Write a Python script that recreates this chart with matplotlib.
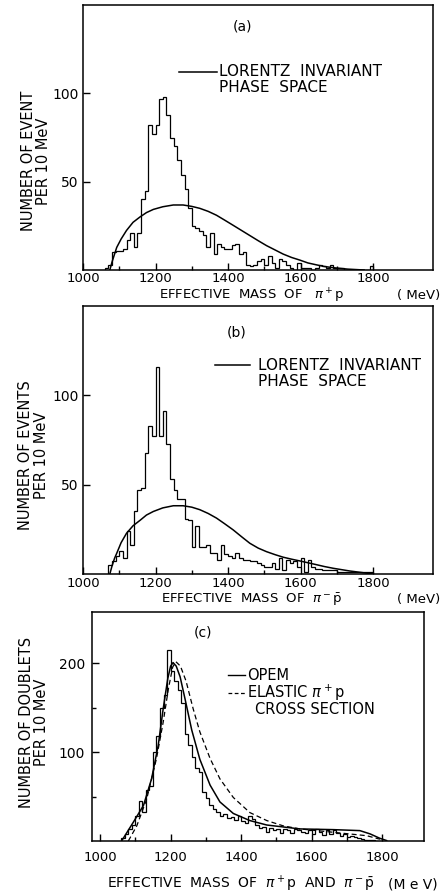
import numpy as np
import matplotlib
matplotlib.use("Agg")
import matplotlib.pyplot as plt

# ---------------- data ----------------
# panel (a): pi+ p histogram, 10 MeV bins starting at 1060 MeV
a_start = 1060
a_counts = [1, 3, 10, 11, 11, 12, 17, 21, 13, 21,
            40, 45, 82, 77, 82, 97, 98, 88, 75, 70,
            62, 54, 46, 35, 25, 24, 22, 20, 13, 21,
            9, 15, 13, 12, 12, 14, 15, 9, 10, 3,
            2, 3, 5, 6, 3, 8, 4, 1, 6, 5,
            3, 1, 0, 4, 1, 1, 1, 0, 1, 3,
            2, 1, 3, 1, 1, 1, 0, 0, 0, 0,
            0, 0, 0, 2]
a_ps_m = [1074, 1080, 1087, 1093, 1105, 1120, 1138, 1157, 1175, 1194, 1220,
          1249, 1276, 1300, 1322, 1345, 1368, 1390, 1414, 1437, 1460, 1483,
          1506, 1530, 1552, 1575, 1598, 1620, 1644, 1665, 1690, 1730, 1775]
a_ps_n = [0, 4.5, 9, 12.8, 17.5, 22.4, 27, 30, 32.5, 34.3, 35.8,
          36.8, 36.8, 36, 34.9, 33.2, 31, 28.3, 25.3, 22.4, 19.5, 16.6,
          13.8, 11.3, 9, 7.1, 5.6, 4, 2.9, 2, 1.3, 0.5, 0]

# panel (b): pi- pbar histogram, 10 MeV bins starting at 1070 MeV
b_start = 1070
b_counts = [5, 7, 10, 13, 9, 24, 16, 35, 47, 48,
            68, 83, 77, 116, 77, 91, 73, 53, 47, 42,
            42, 31, 30, 15, 27, 15, 15, 16, 12, 12,
            8, 16, 11, 10, 9, 12, 9, 8, 8, 7,
            7, 6, 5, 4, 4, 6, 3, 9, 2, 8,
            6, 7, 4, 9, 1, 8, 4, 3, 3, 2,
            2, 2, 2, 1, 1, 1, 1, 1, 1, 1,
            1, 1, 1]
b_ps_m = [1074, 1080, 1087, 1093, 1105, 1120, 1138, 1157, 1175, 1194, 1220,
          1249, 1276, 1300, 1322, 1345, 1368, 1390, 1414, 1437, 1460, 1483,
          1506, 1530, 1552, 1575, 1598, 1620, 1644, 1665, 1690, 1735, 1781, 1800]
b_ps_n = [0, 4.5, 8.8, 11.6, 17.5, 22.8, 27, 30, 33, 35, 37,
          38.2, 38.2, 37.4, 36, 33.9, 31.3, 28.2, 24.7, 20.9, 17.2, 14.5,
          12.5, 10.8, 9.4, 8.3, 7.3, 6.3, 5.2, 4.2, 3.2, 1.7, 0.5, 0]

# panel (c): combined doublets histogram, 10 MeV bins starting at 1060 MeV
c_start = 1060
c_counts = [3, 8, 14, 18, 28, 45, 33, 58, 62, 100,
            118, 150, 165, 215, 192, 180, 170, 155, 120, 108,
            95, 82, 78, 55, 48, 40, 36, 33, 28, 30,
            26, 27, 24, 28, 22, 20, 28, 25, 18, 15,
            16, 10, 15, 12, 14, 9, 14, 12, 9, 13,
            12, 10, 9, 12, 8, 13, 10, 7, 12, 8,
            12, 9, 6, 8, 5, 6, 4, 3, 2, 1, 1, 1]
opem_m = [1061, 1094, 1123, 1146, 1165, 1179, 1192, 1200, 1207, 1216, 1227, 1241,
          1260, 1283, 1312, 1340, 1378, 1425, 1473, 1567, 1662, 1737, 1766,
          1794, 1813]
opem_n = [0, 21, 40, 70, 108, 149, 183, 197, 201, 197, 185, 160,
          125, 92, 63, 44, 31, 23, 18, 13.6, 12.8, 11.7, 8,
          3, 0.5]
elastic_m = [1080, 1104, 1132, 1160, 1179, 1194, 1206, 1215, 1228, 1244,
             1264, 1283, 1312, 1340, 1378, 1425, 1473, 1520, 1567, 1662,
             1756, 1794]
elastic_n = [0, 17, 47, 93, 134, 172, 196, 202, 197, 180,
             149, 123, 93, 70, 49, 32, 23, 17, 13.6, 9.8,
             6, 2]

x_ticks = [1000, 1200, 1400, 1600, 1800]

# ---------------- figure ----------------
W, H = 442, 894
fig = plt.figure(figsize=(W / 100, H / 100), dpi=100)
plt.rcParams['font.family'] = ['DejaVu Sans']
plt.rcParams['mathtext.fontset'] = 'dejavusans'


def add_ax(left, top, right, bottom):
    return fig.add_axes([left / W, 1 - bottom / H, (right - left) / W, (bottom - top) / H])


def ftext(x, y, s, fs=10, **kw):
    fig.text(x / W, 1 - y / H, s, fontsize=fs, **kw)


def style(ax, xlim, ylim, yticks, xpad, ypad, yminor=None):
    ax.set_xlim(*xlim)
    ax.set_ylim(*ylim)
    ax.set_xticks(x_ticks)
    ax.set_xticks(np.arange(1100, 1900, 200), minor=True)
    ax.set_yticks(yticks)
    if yminor is not None:
        ax.set_yticks(yminor, minor=True)
    ax.tick_params(axis='both', which='both', direction='in', top=False, right=False,
                   labelsize=10, width=1.0)
    ax.tick_params(axis='x', labelsize=9.5)
    ax.tick_params(which='major', length=5)
    ax.tick_params(which='minor', length=3)
    ax.tick_params(axis='x', pad=xpad)
    ax.tick_params(axis='y', pad=ypad)
    for s in ax.spines.values():
        s.set_linewidth(1.1)


def steps(ax, start, counts):
    edges = start + 10 * np.arange(len(counts) + 1)
    ax.stairs(counts, edges, baseline=0, color='black', lw=0.9)


def legline(x0, x1, y, **kw):
    fig.add_artist(plt.Line2D([x0 / W, x1 / W], [1 - y / H, 1 - y / H], color='black', **kw))


# panel (a)
axa = add_ax(83, 5, 433, 270)
steps(axa, a_start, a_counts)
axa.plot(a_ps_m, a_ps_n, color='black', lw=1.1)
style(axa, (1000, 1965), (0, 150), [50, 100], 1.8, 3)
ftext(242, 27, "(a)", ha='center', va='center')
legline(179, 217, 72, lw=1.1)
ftext(219, 72, "LORENTZ  INVARIANT", fs=11, ha='left', va='center')
ftext(219, 88, "PHASE  SPACE", fs=11, ha='left', va='center')
ftext(252, 296, r"EFFECTIVE  MASS  OF   $\pi^+$p", fs=9.5, ha='center', va='center')
ftext(440, 295, "( MeV)", fs=9.5, ha='right', va='center')
ftext(29, 161, "NUMBER OF EVENT", fs=10.5, ha='center', va='center', rotation=90)
ftext(44, 161, "PER 10 MeV", fs=10.5, ha='center', va='center', rotation=90)

# panel (b)
axb = add_ax(83, 306, 433, 574)
steps(axb, b_start, b_counts)
axb.plot(b_ps_m, b_ps_n, color='black', lw=1.1)
style(axb, (1000, 1965), (0, 150), [50, 100], 2.5, 3)
ftext(237, 332, "(b)", ha='center', va='center')
legline(215, 250, 365, lw=1.1)
ftext(258, 365, "LORENTZ  INVARIANT", fs=11, ha='left', va='center')
ftext(258, 381, "PHASE  SPACE", fs=11, ha='left', va='center')
ftext(252, 600, r"EFFECTIVE  MASS  OF  $\pi^-\bar{\mathrm{p}}$", fs=9.5, ha='center', va='center')
ftext(440, 599, "( MeV)", fs=9.5, ha='right', va='center')
ftext(26, 455, "NUMBER OF EVENTS", fs=10.5, ha='center', va='center', rotation=90)
ftext(41, 455, "PER 10 MeV", fs=10.5, ha='center', va='center', rotation=90)

# panel (c)
axc = add_ax(92, 612, 424, 841)
steps(axc, c_start, c_counts)
axc.plot(opem_m, opem_n, color='black', lw=1.1)
axc.plot(elastic_m, elastic_n, color='black', lw=0.9, ls=(0, (4, 2.5)))
style(axc, (977, 1919), (0, 258), [100, 200], 7, 5, [50, 150])
ftext(203, 633, "(c)", ha='center', va='center')
legline(228, 245, 675, lw=1.0)
ftext(247, 675, "OPEM", fs=10.5, ha='left', va='center')
legline(228, 245, 693, lw=0.9, ls=(0, (3, 2)))
ftext(247, 693, r"ELASTIC $\pi^+$p", fs=10.5, ha='left', va='center')
ftext(255, 709, "CROSS SECTION", fs=10.5, ha='left', va='center')
ftext(241, 884, r"EFFECTIVE  MASS  OF  $\pi^+$p  AND  $\pi^-\bar{\mathrm{p}}$", ha='center', va='center')
ftext(438, 885, "(M e V)", ha='right', va='center')
ftext(27, 722, "NUMBER OF DOUBLETS", fs=10.5, ha='center', va='center', rotation=90)
ftext(41, 722, "PER 10 MeV", fs=10.5, ha='center', va='center', rotation=90)

fig.savefig("out.png", dpi=100)
